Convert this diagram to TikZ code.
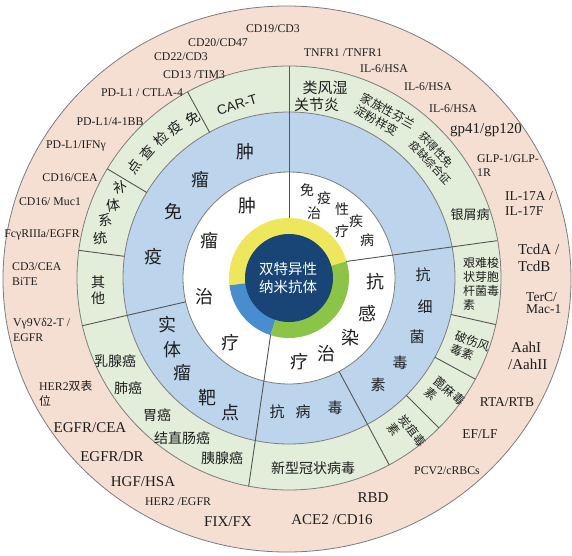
\documentclass[tikz,border=0pt]{standalone}
\usepackage{fontspec}
\setmainfont{Liberation Serif}
\newfontfamily\cjk{Noto Sans CJK SC}
\newfontfamily\lsans{Liberation Sans}
\usetikzlibrary{calc}
\definecolor{pinkc}{RGB}{245,223,211}
\definecolor{greenc}{RGB}{227,238,218}
\definecolor{bluec}{RGB}{188,213,236}
\definecolor{navyc}{RGB}{24,68,118}
\definecolor{yelc}{RGB}{238,230,92}
\definecolor{blutwo}{RGB}{72,142,206}
\definecolor{grntwo}{RGB}{140,196,72}
\definecolor{ringline}{RGB}{125,125,125}
\definecolor{divline}{RGB}{85,85,85}
\definecolor{txt}{RGB}{30,30,30}
\begin{document}
\begin{tikzpicture}[x=1pt,y=1pt,
 lbl/.style={inner sep=0pt, text=txt},
 sm/.style={lbl, font=\fontsize{11.8}{15}\selectfont, align=left},
 md/.style={lbl, font=\fontsize{13.5}{15}\selectfont, align=left},
 lg/.style={lbl, font=\fontsize{15}{17}\selectfont, align=left},
 zha/.style={lbl, font=\cjk\fontsize{18}{20}\selectfont},
 zhb/.style={lbl, font=\cjk\fontsize{15}{17}\selectfont},
 zhc/.style={lbl, font=\cjk\fontsize{14}{16}\selectfont},
 zhd/.style={lbl, font=\cjk\fontsize{12}{14}\selectfont, align=left},
 zhe/.style={lbl, font=\cjk\fontsize{11}{13}\selectfont, align=left},
 ring/.style={draw=ringline, line width=0.8pt},
 divider/.style={draw=divline, line width=0.9pt},
]
\useasboundingbox (0,0) rectangle (572,555);
\fill[white] (0,0) rectangle (572,555);
\coordinate (C) at (289,277);
\coordinate (O) at (287,276);
% rings
\filldraw[fill=pinkc, ring] (O) ellipse [x radius=284, y radius=273];
\filldraw[fill=greenc, ring] (C) circle[radius=212];
\filldraw[fill=bluec, ring] (C) circle[radius=166];
\filldraw[fill=white, ring] (C) circle[radius=106];
% inner coloured ring
\fill[yelc] (C) -- ([shift={(16.1:60)}]C) arc[start angle=16.1, end angle=187, radius=60] -- cycle;
\fill[blutwo] (C) -- ([shift={(187:60)}]C) arc[start angle=187, end angle=252.1, radius=60] -- cycle;
\fill[grntwo] (C) -- ([shift={(252.1:60)}]C) arc[start angle=252.1, end angle=376.1, radius=60] -- cycle;
\fill[navyc] (C) circle[radius=44];
% main dividers
\coordinate (A1) at ([shift={(90:60)}]C);
\coordinate (A2) at ([shift={(90:212)}]C);
\coordinate (B1) at (346,293.5);
\coordinate (B2) at (497,314.3);
\coordinate (L1) at (270.6,220);
\coordinate (L2) at (248.6,68.5);
\draw[divider] (A1) -- (A2);
\draw[divider] (B1) -- (B2);
\draw[divider] (L1) -- (L2);
\foreach \a/\ri [count=\k] in {118.6/166, 149/166, 172.5/166, 193/106, -12.7/166, -28.5/166, -45/166, -61.8/106} {
  \coordinate (ra\k) at ([shift={(\a:\ri)}]C);
  \coordinate (rb\k) at ([shift={(\a:212)}]C);
  \draw[divider] (ra\k) -- (rb\k);
}
% centre
\node[lbl, font=\cjk\fontsize{14.5}{17.5}\selectfont, text=white, align=center] (ctr) at (288,277) {双特异性\\纳米抗体};
% white ring
\node[zha] (w1) at (247,349) {肿};
\node[zha] (w2) at (209,314) {瘤};
\node[zha] (w3) at (204,258) {治};
\node[zha] (w4) at (230,212) {疗};
\node[zhc] (w5) at (307,365) {免};
\node[zhc] (w6) at (324,357) {疫};
\node[zhc] (w7) at (342,346) {性};
\node[zhc] (w8) at (356,334) {疾};
\node[zhc] (w9) at (367,315) {病};
\node[zhc] (w10) at (314,342) {治};
\node[zhc] (w11) at (342,324) {疗};
\node[zha] (w12) at (375,273) {抗};
\node[zha] (w13) at (367,241) {感};
\node[zha] (w14) at (350,217) {染};
\node[zha] (w15) at (326,201) {治};
\node[zha] (w16) at (299,193) {疗};
% blue ring
\node[zha] (b1) at (245,403) {肿};
\node[zha] (b2) at (200,375) {瘤};
\node[zha] (b3) at (173,343) {免};
\node[zha] (b4) at (153,298) {疫};
\node[zha] (b5) at (167,230) {实};
\node[zha] (b6) at (172,205) {体};
\node[zha] (b7) at (182,182) {瘤};
\node[zha] (b8) at (207,157) {靶};
\node[zha] (b9) at (230,142) {点};
\node[zhb] (b10) at (277,143) {抗};
\node[zhb] (b11) at (303,143) {病};
\node[zhb] (b12) at (335,147) {毒};
\node[zhb] (b13) at (423,280) {抗};
\node[zhb] (b14) at (425,248) {细};
\node[zhb] (b15) at (417,218) {菌};
\node[zhb] (b16) at (400,192) {毒};
\node[zhb] (b17) at (378,170) {素};
% green ring
\node[lbl, font=\lsans\fontsize{13.5}{15}\selectfont, rotate=16.7] (g1) at (237,450) {CAR-T};
\node[zhc, rotate=31] (g2) at (193,437) {免};
\node[zhc, rotate=37] (g3) at (175,427) {疫};
\node[zhc, rotate=42.6] (g4) at (161,416) {检};
\node[zhc, rotate=48.6] (g5) at (147,402) {查};
\node[zhc, rotate=54.4] (g6) at (134,388) {点};
\node[zhc, rotate=8] (g7) at (120,368) {补};
\node[zhc, rotate=8] (g8) at (113,350) {体};
\node[zhc, rotate=8] (g9) at (105,335) {系};
\node[zhc, rotate=8] (g10) at (100,317) {统};
\node[zhc] (g11) at (98,273) {其};
\node[zhc] (g12) at (98,257) {他};
\node[zhc] (g13) at (115,194) {乳腺癌};
\node[zhc] (g14) at (128,167) {肺癌};
\node[zhc] (g15) at (157,140) {胃癌};
\node[zhc] (g16) at (182,117) {结直肠癌};
\node[zhc] (g17) at (222,97) {胰腺癌};
\node[zhc] (g18) at (313,87) {新型冠状病毒};
\node[zhd, rotate=-52] (g19) at (407,120) {炭疽毒\\素};
\node[zhd, rotate=-40] (g20) at (445,159) {蓖麻毒\\素};
\node[zhd, rotate=-20] (g21) at (470,207) {破伤风\\毒素};
\node[zhd] (g22) at (481,271) {艰难梭\\状芽胞\\杆菌毒\\素};
\node[lbl, font=\cjk\fontsize{13}{15}\selectfont] (g23) at (470,340) {银屑病};
\node[zhe, rotate=-47] (g24) at (435.5,396.5) {获得性免\\疫缺综合征};
\node[zhd, rotate=-29] (g25) at (385,438) {家族性芬兰\\淀粉样变};
\node[zhb] (g26) at (325,467) {类风湿};
\node[zhb] (g27) at (316.5,450) {关节炎};
% pink ring
\node[sm] (p1) at (273,526) {CD19/CD3};
\node[sm] (p2) at (218,512) {CD20/CD47};
\node[sm] (p3) at (181,498) {CD22/CD3};
\node[sm] (p4) at (194,480) {CD13 /TIM3};
\node[sm] (p5) at (142,462) {PD-L1 / CTLA-4};
\node[sm] (p6) at (110,433) {PD-L1/4-1BB};
\node[sm] (p7) at (76,409) {PD-L1/IFNγ};
\node[sm] (p8) at (70,377) {CD16/CEA};
\node[sm] (p9) at (50,353) {CD16/ Muc1};
\node[sm] (p10) at (42,320) {FcγRIIIa/EGFR};
\node[sm, anchor=west] (p11) at (12,280.5) {CD3/CEA\\BiTE};
\node[sm, anchor=west] (p12) at (13,225.5) {Vγ9Vδ2-T /\\EGFR};
\node[sm, anchor=west] (p13) at (39,161.5) {HER2{\cjk 双表}\\{\cjk 位}};
\node[lg] (p14) at (90,127) {EGFR/CEA};
\node[lg] (p15) at (112,98) {EGFR/DR};
\node[lg] (p16) at (143,73) {HGF/HSA};
\node[sm] (p17) at (178,53) {HER2 /EGFR};
\node[lg] (p18) at (228,33) {FIX/FX};
\node[lg] (p19) at (332,35) {ACE2 /CD16};
\node[lg] (p20) at (373,57) {RBD};
\node[sm] (p21) at (447,84) {PCV2/cRBCs};
\node[md] (p22) at (480,121) {EF/LF};
\node[md] (p23) at (507,153) {RTA/RTB};
\node[lg, anchor=west] (p24) at (508,199.5) {\hspace{3pt}AahI\\/AahII};
\node[md, anchor=west, font=\fontsize{13.5}{12.5}\selectfont] (p25) at (526,252) {TerC/\\Mac-1};
\node[lg, anchor=west] (p26) at (518,297) {TcdA /\\TcdB};
\node[md, anchor=west] (p27) at (505,351.5) {IL-17A /\\IL-17F};
\node[sm, anchor=west, font=\fontsize{11.8}{14}\selectfont] (p28) at (477,389) {GLP-1/GLP-\\1R};
\node[lg] (p29) at (486,425) {gp41/gp120};
\node[sm] (p30) at (453,446) {IL-6/HSA};
\node[sm] (p31) at (428,468) {IL-6/HSA};
\node[sm] (p32) at (384,486) {IL-6/HSA};
\node[sm] (p33) at (343,502) {TNFR1 /TNFR1};
\end{tikzpicture}
\end{document}
